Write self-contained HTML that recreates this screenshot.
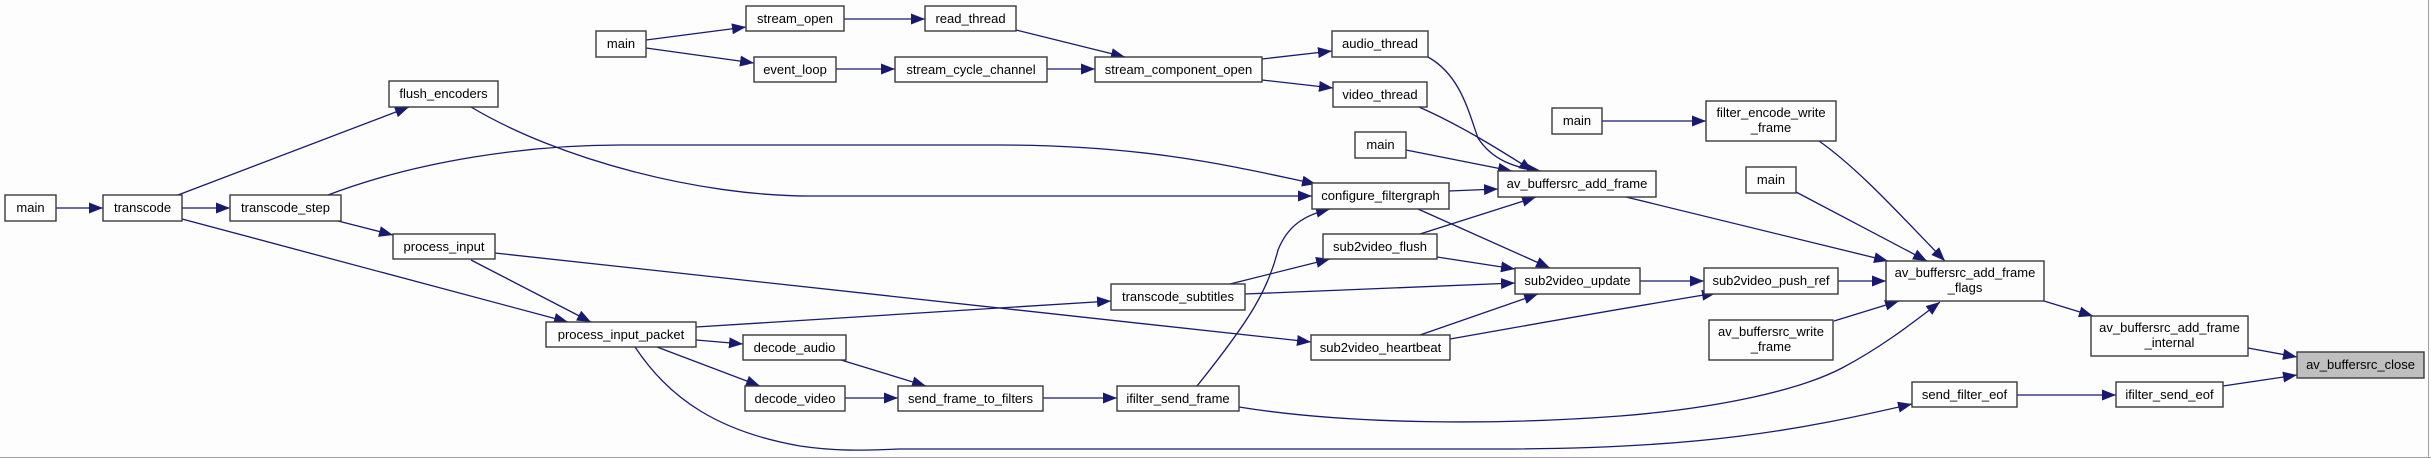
<!DOCTYPE html>
<html><head><meta charset="utf-8"><style>
html,body{margin:0;padding:0;background:#fcfdfc;}
svg{display:block;}
text{font-family:"Liberation Sans",sans-serif;font-size:13px;fill:#000;text-anchor:middle;}
.b{fill:#fcfdfc;stroke:#3a3a3a;stroke-width:1.4;}
.e{fill:none;stroke:#191970;stroke-width:1.3;marker-end:url(#a);}
</style></head><body>
<svg width="2431" height="458" viewBox="0 0 2431 458" xmlns="http://www.w3.org/2000/svg">
<defs><marker id="a" markerUnits="userSpaceOnUse" markerWidth="15" markerHeight="11" refX="14" refY="5.5" orient="auto"><path d="M0,0 L14,5.5 L0,11 Z" fill="#191970"/></marker></defs>
<g>
<path class="e" d="M56,208 L103,208"/>
<path class="e" d="M182,208 L230,208"/>
<path class="e" d="M178,195 L409,107"/>
<path class="e" d="M182,219 L568,322"/>
<path class="e" d="M338,221 L393,235"/>
<path class="e" d="M328,195 C420,160 530,145 620,145 L1000,145 C1150,145 1240,168 1316,184"/>
<path class="e" d="M471,107 C560,160 700,196 810,196 L1312,196"/>
<path class="e" d="M495,253 L1311,342"/>
<path class="e" d="M471,260 L591,322"/>
<path class="e" d="M696,327 L1111,301"/>
<path class="e" d="M696,340 L743,344"/>
<path class="e" d="M657,347 L760,386"/>
<path class="e" d="M635,347 C670,400 720,432 800,446 C840,452 870,450 900,449 L1500,449 C1700,449 1800,430 1912,404"/>
<path class="e" d="M841,360 L926,386"/>
<path class="e" d="M845,398 L898,398"/>
<path class="e" d="M1043,398 L1117,398"/>
<path class="e" d="M1197,386 C1250,320 1268,290 1278,250 C1288,225 1305,215 1330,209"/>
<path class="e" d="M1239,407 C1350,425 1500,425 1620,416 C1720,408 1800,390 1842,368 C1880,348 1910,325 1940,302"/>
<path class="e" d="M1230,284 L1330,259"/>
<path class="e" d="M1245,294 L1515,283"/>
<path class="e" d="M1420,234 L1536,197"/>
<path class="e" d="M1437,257 L1515,269"/>
<path class="e" d="M1449,191 L1498,189"/>
<path class="e" d="M1418,209 L1550,268"/>
<path class="e" d="M1420,335 L1538,294"/>
<path class="e" d="M1450,339 C1530,325 1600,312 1716,293"/>
<path class="e" d="M1640,281 L1704,281"/>
<path class="e" d="M1838,281 L1886,281"/>
<path class="e" d="M1626,197 L1888,261"/>
<path class="e" d="M1796,192 L1927,261"/>
<path class="e" d="M1819,141 C1860,170 1900,215 1945,261"/>
<path class="e" d="M1834,321 L1899,301"/>
<path class="e" d="M1602,121 L1706,121"/>
<path class="e" d="M1428,57 C1460,75 1468,110 1478,138 C1492,160 1515,168 1541,171"/>
<path class="e" d="M1419,107 C1460,125 1500,150 1533,171"/>
<path class="e" d="M1406,150 L1512,171"/>
<path class="e" d="M646,40 L746,27"/>
<path class="e" d="M646,48 L754,63"/>
<path class="e" d="M844,19 L925,19"/>
<path class="e" d="M836,69 L895,69"/>
<path class="e" d="M1047,69 L1095,69"/>
<path class="e" d="M1016,30 L1125,57"/>
<path class="e" d="M1262,59 L1332,51"/>
<path class="e" d="M1262,80 L1333,88"/>
<path class="e" d="M2044,301 L2093,316"/>
<path class="e" d="M2248,348 L2297,357"/>
<path class="e" d="M2017,395 L2116,395"/>
<path class="e" d="M2223,386 L2297,375"/>
</g>
<g>
<rect class="b" x="5" y="195" width="51" height="26"/><text x="30.5" y="212">main</text>
<rect class="b" x="103" y="195" width="79" height="26"/><text x="142.5" y="212">transcode</text>
<rect class="b" x="230" y="195" width="111" height="26"/><text x="285.5" y="212">transcode_step</text>
<rect class="b" x="389" y="81" width="109" height="26"/><text x="443.5" y="98">flush_encoders</text>
<rect class="b" x="393" y="234" width="102" height="25"/><text x="444" y="251">process_input</text>
<rect class="b" x="546" y="322" width="150" height="25"/><text x="621" y="339">process_input_packet</text>
<rect class="b" x="596" y="31" width="50" height="26"/><text x="621" y="48">main</text>
<rect class="b" x="746" y="6" width="98" height="25"/><text x="795" y="23">stream_open</text>
<rect class="b" x="754" y="57" width="82" height="25"/><text x="795" y="74">event_loop</text>
<rect class="b" x="743" y="335" width="103" height="25"/><text x="794.5" y="352">decode_audio</text>
<rect class="b" x="745" y="386" width="100" height="25"/><text x="795" y="403">decode_video</text>
<rect class="b" x="925" y="6" width="91" height="25"/><text x="970.5" y="23">read_thread</text>
<rect class="b" x="895" y="57" width="152" height="25"/><text x="971" y="74">stream_cycle_channel</text>
<rect class="b" x="1095" y="57" width="167" height="25"/><text x="1178.5" y="74">stream_component_open</text>
<rect class="b" x="1332" y="31" width="96" height="26"/><text x="1380" y="48">audio_thread</text>
<rect class="b" x="1333" y="82" width="94" height="25"/><text x="1380" y="99">video_thread</text>
<rect class="b" x="1355" y="132" width="51" height="26"/><text x="1380.5" y="149">main</text>
<rect class="b" x="1552" y="108" width="50" height="26"/><text x="1577" y="125">main</text>
<rect class="b" x="1498" y="171" width="158" height="26"/><text x="1577" y="188">av_buffersrc_add_frame</text>
<rect class="b" x="1312" y="183" width="137" height="26"/><text x="1380.5" y="200">configure_filtergraph</text>
<rect class="b" x="1323" y="234" width="114" height="25"/><text x="1380" y="251">sub2video_flush</text>
<rect class="b" x="1515" y="268" width="125" height="26"/><text x="1577.5" y="285">sub2video_update</text>
<rect class="b" x="1111" y="284" width="134" height="26"/><text x="1178" y="301">transcode_subtitles</text>
<rect class="b" x="1311" y="335" width="139" height="25"/><text x="1380.5" y="352">sub2video_heartbeat</text>
<rect class="b" x="898" y="386" width="145" height="25"/><text x="970.5" y="403">send_frame_to_filters</text>
<rect class="b" x="1117" y="386" width="122" height="25"/><text x="1178" y="403">ifilter_send_frame</text>
<rect class="b" x="1706" y="101" width="130" height="40"/><text x="1771" y="117">filter_encode_write</text><text x="1771" y="132">_frame</text>
<rect class="b" x="1746" y="167" width="50" height="26"/><text x="1771" y="184">main</text>
<rect class="b" x="1704" y="268" width="134" height="26"/><text x="1771" y="285">sub2video_push_ref</text>
<rect class="b" x="1709" y="320" width="124" height="40"/><text x="1771" y="336">av_buffersrc_write</text><text x="1771" y="351">_frame</text>
<rect class="b" x="1886" y="261" width="158" height="40"/><text x="1965" y="277">av_buffersrc_add_frame</text><text x="1965" y="292">_flags</text>
<rect class="b" x="2091" y="316" width="157" height="40"/><text x="2169.5" y="332">av_buffersrc_add_frame</text><text x="2169.5" y="347">_internal</text>
<rect x="2297" y="352" width="127" height="26" fill="#bfbfbf" stroke="#3a3a3a" stroke-width="1.4"/><text x="2360.5" y="369">av_buffersrc_close</text>
<rect class="b" x="1912" y="382" width="105" height="25"/><text x="1964.5" y="399">send_filter_eof</text>
<rect class="b" x="2116" y="382" width="107" height="25"/><text x="2169.5" y="399">ifilter_send_eof</text>
</g>
<line x1="0" y1="457.5" x2="2431" y2="457.5" stroke="#a0a0a0" stroke-width="1"/>
<line x1="2428.5" y1="0" x2="2428.5" y2="458" stroke="#a0a0a0" stroke-width="1"/>
</svg>
</body></html>
